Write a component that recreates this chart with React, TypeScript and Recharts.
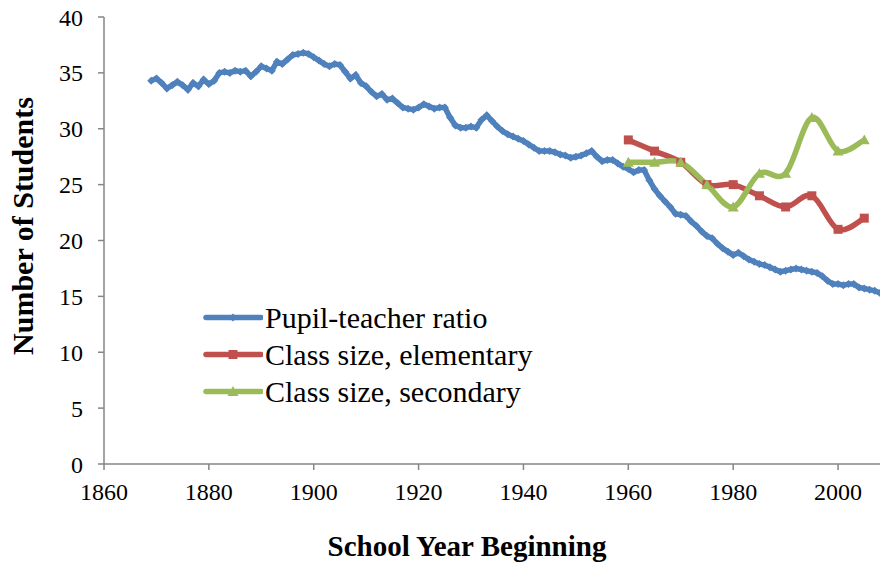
import React from 'react';
import { Label, Legend, Line, LineChart, XAxis, YAxis } from 'recharts';

const BLUE = '#4F81BD';
const RED = '#C0504D';
const GREEN = '#9BBB59';
const AXIS = '#868686';
const FONT = '"Liberation Serif", "Times New Roman", Times, serif';

// pupil-teacher ratio, one value per school year from 1869
const ratioYears = Array.from({ length: 140 }, (_, i) => 1869 + i);
const ratioValues = [
	34.3, 34.5, 34.1, 33.6, 33.9, 34.2, 33.9, 33.5, 34.1, 33.8, 34.4,
	34.0, 34.3, 35.0, 35.1, 35.0, 35.2, 35.1, 35.2, 34.7, 35.1,
	35.6, 35.4, 35.2, 36.0, 35.8, 36.2, 36.6, 36.7, 36.8, 36.7,
	36.4, 36.1, 35.8, 35.6, 35.8, 35.7, 35.1, 34.5, 34.8, 34.1,
	33.8, 33.3, 32.9, 33.1, 32.6, 32.7, 32.3, 31.9, 31.8, 31.7,
	31.9, 32.2, 32.0, 31.8, 31.9, 31.9, 31.0, 30.3, 30.1, 30.1,
	30.2, 30.1, 30.8, 31.2, 30.7, 30.2, 29.8, 29.5, 29.3, 29.1,
	28.9, 28.6, 28.3, 28.0, 28.0, 28.0, 27.9, 27.7, 27.6, 27.4,
	27.5, 27.6, 27.8, 28.0, 27.5, 27.1, 27.2, 27.2, 26.9, 26.6,
	26.4, 26.1, 26.3, 26.3, 25.4, 24.6, 24.0, 23.5, 23.0, 22.4,
	22.3, 22.2, 21.7, 21.3, 20.8, 20.4, 20.2, 19.7, 19.3, 19.0,
	18.7, 18.9, 18.6, 18.3, 18.1, 17.9, 17.8, 17.6, 17.4, 17.2,
	17.3, 17.4, 17.5, 17.4, 17.3, 17.2, 17.1, 16.8, 16.4, 16.1,
	16.1, 16.0, 16.1, 16.1, 15.8, 15.7, 15.6, 15.5, 15.3,
];

// class sizes, every five years
const classYears = [1960, 1965, 1970, 1975, 1980, 1985, 1990, 1995, 2000, 2005];
const elementaryValues = [29, 28, 27, 25, 25, 24, 23, 24, 21, 22];
const secondaryValues = [27, 27, 27, 25, 23, 26, 26, 31, 28, 29];

const xTicks = [1860, 1880, 1900, 1920, 1940, 1960, 1980, 2000];
const yTicks = [0, 5, 10, 15, 20, 25, 30, 35, 40];

const ratioData = ratioYears.map((year, i) => ({ year, value: ratioValues[i] }));
const elementaryData = classYears.map((year, i) => ({ year, value: elementaryValues[i] }));
const secondaryData = classYears.map((year, i) => ({ year, value: secondaryValues[i] }));

const seriesInfo = [
	{ name: 'Pupil-teacher ratio', color: BLUE, shape: 'diamond' },
	{ name: 'Class size, elementary', color: RED, shape: 'square' },
	{ name: 'Class size, secondary', color: GREEN, shape: 'triangle' },
];

// Excel-like smoothed line (Catmull-Rom as cubic Beziers)
const smoothCurve = (context: any) => {
	let pts: number[][] = [];
	return {
		areaStart() {},
		areaEnd() {},
		lineStart() {
			pts = [];
		},
		point(x: number, y: number) {
			pts.push([+x, +y]);
		},
		lineEnd() {
			const n = pts.length;
			if (!n) return;
			context.moveTo(pts[0][0], pts[0][1]);
			for (let i = 0; i < n - 1; i++) {
				const p0 = pts[i - 1] || pts[i];
				const p1 = pts[i];
				const p2 = pts[i + 1];
				const p3 = pts[i + 2] || p2;
				context.bezierCurveTo(
					p1[0] + (p2[0] - p0[0]) / 6,
					p1[1] + (p2[1] - p0[1]) / 6,
					p2[0] - (p3[0] - p1[0]) / 6,
					p2[1] - (p3[1] - p1[1]) / 6,
					p2[0],
					p2[1],
				);
			}
		},
	};
};

const markerPath = (shape: string, cx: number, cy: number) => {
	if (shape === 'diamond') {
		const r = 4;
		return `M${cx},${cy - r}L${cx + r},${cy}L${cx},${cy + r}L${cx - r},${cy}Z`;
	}
	if (shape === 'square') {
		const r = 4.5;
		return `M${cx - r},${cy - r}H${cx + r}V${cy + r}H${cx - r}Z`;
	}
	const r = 5.5;
	return `M${cx},${cy - r}L${cx + r},${cy + r * 0.8}L${cx - r},${cy + r * 0.8}Z`;
};

const makeDot = (shape: string, color: string) => (props: any) => {
	const { cx, cy, index } = props;
	if (cx == null || cy == null) return <g key={`n${index}`} />;
	return <path key={`d${index}`} d={markerPath(shape, cx, cy)} fill={color} stroke='none' />;
};

const LegendBox = () => (
	<div style={{ fontFamily: FONT, fontSize: 30, color: '#000', lineHeight: '37px', textAlign: 'left' }}>
		{seriesInfo.map((s) => (
			<div key={s.name} style={{ display: 'flex', alignItems: 'center', whiteSpace: 'nowrap' }}>
				<svg width={60} height={37} style={{ marginRight: 2 }}>
					<line x1={3} y1={18.5} x2={58} y2={18.5} stroke={s.color} strokeWidth={5.5} strokeLinecap='round' />
					<path d={markerPath(s.shape, 30, 18.5)} fill={s.color} />
				</svg>
				<span>{s.name}</span>
			</div>
		))}
	</div>
);

const App = () => {
	return (
		<div style={{ position: 'absolute', left: 0, top: 0, background: '#fff', fontFamily: FONT }}>
			<LineChart width={881} height={565} margin={{ top: 17, right: 1, bottom: 0, left: 0 }} style={{ fontFamily: FONT }}>
				<XAxis
					dataKey='year'
					type='number'
					domain={[1860, 2008]}
					ticks={xTicks}
					allowDataOverflow
					height={101}
					tickSize={6}
					tickMargin={13}
					stroke={AXIS}
					strokeWidth={1.5}
					tick={{ fill: '#000', fontSize: 24, fontFamily: FONT }}
				>
					<Label
						content={() => (
							<text x={467} y={556} textAnchor='middle' fontFamily={FONT} fontSize={29} fontWeight='bold' fill='#000'>
								School Year Beginning
							</text>
						)}
					/>
				</XAxis>
				<YAxis
					type='number'
					domain={[0, 40]}
					ticks={yTicks}
					width={104}
					tickSize={6}
					tickMargin={15}
					stroke={AXIS}
					strokeWidth={1.5}
					tick={{ fill: '#000', fontSize: 24, fontFamily: FONT }}
				>
					<Label
						content={() => (
							<text
								x={33}
								y={226}
								transform='rotate(-90, 33, 226)'
								textAnchor='middle'
								fontFamily={FONT}
								fontSize={30}
								fontWeight='bold'
								fill='#000'
							>
								Number of Students
							</text>
						)}
					/>
				</YAxis>
				<Legend
					layout='vertical'
					align='center'
					verticalAlign='middle'
					content={LegendBox}
					wrapperStyle={{ position: 'absolute', left: 203, top: 299, width: 'auto', height: 'auto' }}
				/>
				<Line
					data={ratioData}
					dataKey='value'
					name='Pupil-teacher ratio'
					type='linear'
					stroke={BLUE}
					strokeWidth={5.5}
					dot={makeDot('diamond', BLUE)}
					activeDot={false}
					isAnimationActive={false}
				/>
				<Line
					data={elementaryData}
					dataKey='value'
					name='Class size, elementary'
					type={smoothCurve as any}
					stroke={RED}
					strokeWidth={5.5}
					dot={makeDot('square', RED)}
					activeDot={false}
					isAnimationActive={false}
				/>
				<Line
					data={secondaryData}
					dataKey='value'
					name='Class size, secondary'
					type={smoothCurve as any}
					stroke={GREEN}
					strokeWidth={5.5}
					dot={makeDot('triangle', GREEN)}
					activeDot={false}
					isAnimationActive={false}
				/>
			</LineChart>
		</div>
	);
};

export default App;
